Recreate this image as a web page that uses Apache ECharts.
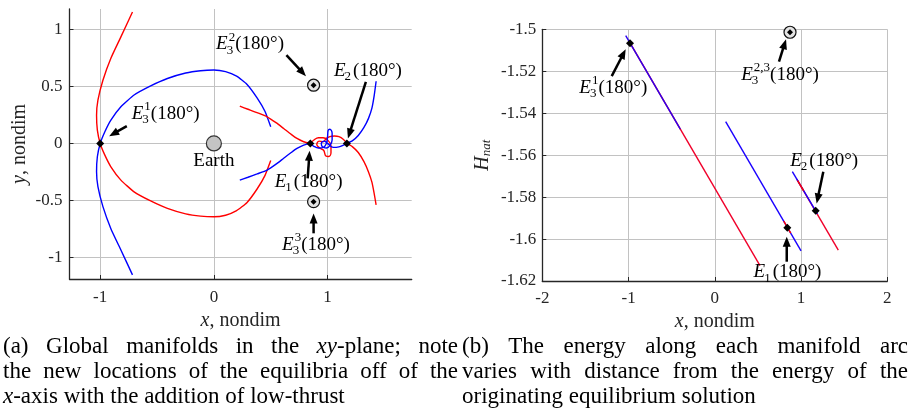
<!DOCTYPE html>
<html>
<head>
<meta charset="utf-8">
<script src="https://cdn.jsdelivr.net/npm/echarts@6.0.0/dist/echarts.min.js"></script>
<style>
  html, body { margin: 0; padding: 0; background: #fff; }
  #chart { width: 913px; height: 410px; }
</style>
</head>
<body>
<div id="chart"></div>
<script>
// ---------- (a) manifolds in the xy-plane ----------
const redArc = [[-0.716, 1.154], [-0.818, 0.935], [-0.906, 0.748], [-0.976, 0.555], [-1.02, 0.38],
  [-1.032, 0.248], [-1.025, 0.117], [-1.0, 0], [-0.959, -0.103], [-0.906, -0.205], [-0.818, -0.322],
  [-0.702, -0.425], [-0.556, -0.505], [-0.409, -0.57], [-0.248, -0.618], [-0.117, -0.638], [0.0, -0.644],
  [0.103, -0.63], [0.2, -0.59], [0.29, -0.52], [0.38, -0.4], [0.45, -0.28], [0.5, -0.15]];
const blueArc = [[-0.716, -1.154], [-0.818, -0.935], [-0.906, -0.748], [-0.976, -0.555], [-1.02, -0.38],
  [-1.032, -0.248], [-1.025, -0.117], [-1.0, 0], [-0.959, 0.103], [-0.906, 0.205], [-0.818, 0.322],
  [-0.702, 0.425], [-0.556, 0.505], [-0.409, 0.57], [-0.248, 0.618], [-0.117, 0.638], [0.0, 0.644],
  [0.103, 0.63], [0.2, 0.59], [0.29, 0.52], [0.38, 0.4], [0.45, 0.28], [0.5, 0.146]];
const redToE1 = [[0.228, 0.327], [0.3, 0.3], [0.38, 0.27], [0.468, 0.234], [0.55, 0.18], [0.614, 0.131],
  [0.68, 0.08], [0.731, 0.044], [0.79, 0.015], [0.848, 0]];
const blueToE1 = [[0.228, -0.322], [0.3, -0.297], [0.38, -0.268], [0.468, -0.234], [0.55, -0.18], [0.614, -0.13],
  [0.68, -0.08], [0.731, -0.044], [0.79, -0.015], [0.848, 0]];
const redLoop = [[0.848, 0], [0.88, 0.03], [0.92, 0.05], [0.96, 0.05], [1.0, 0.03], [1.03, -0.02],
  [1.03, -0.08], [1.01, -0.115], [0.985, -0.11], [0.965, -0.06], [0.93, -0.04], [0.905, -0.01],
  [0.925, 0.02], [0.96, 0.015], [0.99, 0.045], [1.02, 0.06], [1.06, 0.065], [1.1, 0.06], [1.14, 0.035], [1.17, 0]];
const blueLoop = [[0.848, 0], [0.88, -0.025], [0.92, -0.04], [0.96, -0.035], [0.99, 0.0], [1.0, 0.06],
  [1.005, 0.115], [1.02, 0.125], [1.04, 0.09], [1.04, 0.03], [1.02, -0.02], [0.99, -0.04], [0.955, -0.03],
  [0.945, 0.0], [0.97, 0.02], [1.0, 0.0], [1.05, -0.035], [1.1, -0.03], [1.14, -0.015], [1.17, 0]];
const redFromE2 = [[1.17, 0], [1.22, -0.03], [1.27, -0.08], [1.32, -0.16], [1.36, -0.25], [1.39, -0.34],
  [1.41, -0.44], [1.427, -0.54]];
const blueFromE2 = [[1.17, 0], [1.22, 0.025], [1.27, 0.07], [1.32, 0.14], [1.36, 0.22], [1.39, 0.31],
  [1.41, 0.42], [1.427, 0.546]];
const earthPos = [[0, 0]];
const onAxisEq = [[-1, 0], [0.848, 0], [1.17, 0]];
const offAxisEq = [[0.877, 0.511], [0.877, -0.511]];

const ticksXA = [-1, 0, 1];
const ticksYA = [-1, -0.5, 0, 0.5, 1];

// annotation arrows [tailX, tailY, headX, headY] and labels
const arrowsA = [[-0.766, 0.152, -0.921, 0.064], [0.638, 0.775, 0.81, 0.59], [1.337, 0.54, 1.179, 0.044],
  [0.825, -0.307, 0.842, -0.065], [0.877, -0.789, 0.877, -0.614]];
const labelPosA = [[-0.424, 0.262], [0.318, 0.871], [1.355, 0.636], [0.833, -0.337], [0.898, -0.892], [0, -0.155]];
const labelBaseA = ['E', 'E', 'E', 'E', 'E', 'Earth'];
const labelSubA = ['3', '3', '2', '1', '3', ''];
const labelSupA = ['1', '2', '', '', '3', ''];
const labelTailA = ['(180°)', '(180°)', '(180°)', '(180°)', '(180°)', ''];

// ---------- (b) energy along each arc ----------
const hE31Red = [[-1.0, -1.5053], [0.524, -1.6127]];
const hE31Blue = [[-1.033, -1.503], [-0.40, -1.5476]];
const hE1Blue = [[0.126, -1.544], [1.0, -1.6056]];
const hE1Red = [[0.80, -1.5915], [0.88, -1.5972]];
const hE2Red = [[0.95, -1.5714], [1.432, -1.6053]];
const hE2Blue = [[0.899, -1.5679], [1.19, -1.588]];
const hE2RedMid = [[0.96, -1.5721], [1.03, -1.5769]];
const hOnArc = [[-0.983, -1.5067], [0.841, -1.5946], [1.17, -1.5865]];
const hOffAxis = [[0.872, -1.5014]];

const ticksXB = [-2, -1, 0, 1, 2];
const ticksYB = [-1.62, -1.6, -1.58, -1.56, -1.54, -1.52, -1.5];

const arrowsB = [[-1.195, -1.5223, -1.033, -1.5095], [0.744, -1.5154, 0.826, -1.5048],
  [1.258, -1.5679, 1.181, -1.583], [0.834, -1.6108, 0.834, -1.5989]];
const labelPosB = [[-1.177, -1.528], [0.756, -1.5218], [1.268, -1.5627], [0.843, -1.6159]];
const labelBaseB = ['E', 'E', 'E', 'E'];
const labelSubB = ['3', '3', '2', '1'];
const labelSupB = ['1', '2,3', '', ''];
const labelTailB = ['(180°)', '(180°)', '(180°)', '(180°)'];

// captions
const captionA = ['(a) Global manifolds in the *xy*-plane; note', 'the new locations of the equilibria off of the',
  '*x*-axis with the addition of low-thrust'];
const captionB = ['(b) The energy along each manifold arc', 'varies with distance from the energy of the',
  'originating equilibrium solution'];
const captionJustify = [true, true, false];

// ---------- helpers ----------
const FAMILY = '"Liberation Serif", "Times New Roman", serif';
const INK = '#262626';
const measureCtx = document.createElement('canvas').getContext('2d');
function textWidth(s, size, italic) {
  measureCtx.font = (italic ? 'italic ' : '') + size + 'px ' + FAMILY;
  return measureCtx.measureText(s).width;
}

function arrowItem(params, api) {
  const p1 = api.coord([api.value(0), api.value(1)]);
  const p2 = api.coord([api.value(2), api.value(3)]);
  const dx = p2[0] - p1[0], dy = p2[1] - p1[1];
  const len = Math.hypot(dx, dy);
  const ux = dx / len, uy = dy / len;
  const hl = 10, hw = 4;
  const bx = p2[0] - ux * hl, by = p2[1] - uy * hl;
  return {
    type: 'group',
    children: [
      { type: 'line', shape: { x1: p1[0], y1: p1[1], x2: bx + ux, y2: by + uy }, style: { stroke: '#000', lineWidth: 2.5 } },
      { type: 'polygon', shape: { points: [[p2[0], p2[1]], [bx - uy * hw, by + ux * hw], [bx + uy * hw, by - ux * hw]] }, style: { fill: '#000' } }
    ]
  };
}

function labelRenderer(bases, subs, sups, tails) {
  const big = 19, small = 13;
  return function (params, api) {
    const i = params.dataIndex;
    const p = api.coord([api.value(0), api.value(1)]);
    const italic = bases[i] === 'E';
    const wB = textWidth(bases[i], big, italic);
    const wS = Math.max(textWidth(subs[i], small), textWidth(sups[i], small));
    const wT = textWidth(tails[i], big);
    const x0 = p[0] - (wB + wS + wT + (wS ? 1 : 0)) / 2;
    const mk = (text, x, y, size, it) => ({
      type: 'text', x: x, y: y,
      style: { text: text, fontSize: size, fontFamily: FAMILY, fontStyle: it ? 'italic' : 'normal', fill: '#000', align: 'left', verticalAlign: 'middle' }
    });
    const children = [mk(bases[i], x0, p[1], big, italic)];
    if (subs[i]) children.push(mk(subs[i], x0 + wB - 1, p[1] + 6, small));
    if (sups[i]) children.push(mk(sups[i], x0 + wB + 1, p[1] - 7, small));
    if (tails[i]) children.push(mk(tails[i], x0 + wB + wS + 1, p[1], big));
    return { type: 'group', children: children };
  };
}

function captionGraphics(lines, x0, x1, y0, dy) {
  const size = 23;
  const out = [];
  lines.forEach((line, li) => {
    const words = line.split(' ');
    const widths = words.map(w => w.split('*').reduce((s, part, k) => s + textWidth(part, size, k % 2 === 1), 0));
    const total = widths.reduce((a, b) => a + b, 0);
    const gap = captionJustify[li] ? (x1 - x0 - total) / (words.length - 1) : textWidth(' ', size);
    let x = x0;
    words.forEach((w, k) => {
      const rich = w.split('*').map((part, j) => (j % 2 === 1 ? '{i|' + part + '}' : part)).join('');
      out.push({
        type: 'text', x: x, y: y0 + li * dy, silent: true,
        style: {
          text: rich, fontSize: size, fontFamily: FAMILY, fill: '#000', verticalAlign: 'middle',
          rich: { i: { fontStyle: 'italic', fontSize: size, fontFamily: FAMILY, fill: '#000' } }
        }
      });
      x += widths[k] + gap;
    });
  });
  return out;
}

function valueAxis(gridIndex, min, max, ticks, margin, extra) {
  return Object.assign({
    type: 'value', gridIndex: gridIndex, min: min, max: max,
    axisLine: { show: true, onZero: false, lineStyle: { color: INK, width: 1.3 } },
    axisTick: { show: true, inside: true, length: 4, customValues: ticks, lineStyle: { color: INK, width: 1 } },
    axisLabel: { customValues: ticks, formatter: v => String(v), fontFamily: FAMILY, fontSize: 17, color: INK, margin: margin },
    splitLine: { show: true, lineStyle: { color: '#c2c2c2', width: 1 } },
    nameLocation: 'middle',
    nameTextStyle: {
      fontFamily: FAMILY, fontSize: 20, color: INK,
      rich: {
        i: { fontStyle: 'italic', fontFamily: FAMILY, fontSize: 20, color: INK },
        s: { fontStyle: 'italic', fontFamily: FAMILY, fontSize: 13, color: INK, padding: [8, 0, 0, 0] }
      }
    }
  }, extra);
}

function curve(data, color, xi, smooth) {
  return {
    type: 'line', xAxisIndex: xi, yAxisIndex: xi, data: data, smooth: smooth, showSymbol: false,
    symbol: 'none', lineStyle: { color: color, width: 1.4 }, silent: true, z: 3
  };
}

function dots(data, xi, symbol, size, fill, border, z) {
  return {
    type: 'scatter', xAxisIndex: xi, yAxisIndex: xi, data: data, symbol: symbol, symbolSize: size,
    itemStyle: { color: fill, borderColor: border, borderWidth: border ? 1.2 : 0, opacity: 1 }, silent: true, z: z
  };
}

const chart = echarts.init(document.getElementById('chart'), null, { renderer: 'canvas' });
chart.setOption({
  animation: false,
  backgroundColor: '#fff',
  grid: [
    { left: 69.5, top: 9, width: 342.2, height: 270, outerBoundsMode: 'none', containLabel: false },
    { left: 542.3, top: 29.3, width: 345, height: 251.7, outerBoundsMode: 'none', containLabel: false }
  ],
  xAxis: [
    valueAxis(0, -1.27, 1.74, ticksXA, 10, { name: '{i|x}, nondim', nameGap: 32 }),
    valueAxis(1, -2, 2, ticksXB, 9, { name: '{i|x}, nondim', nameGap: 30 })
  ],
  yAxis: [
    valueAxis(0, -1.19, 1.18, ticksYA, 7, { name: '{i|y}, nondim', nameGap: 40 }),
    valueAxis(1, -1.62, -1.5, ticksYB, 6, { name: '{i|H}{s|nat}', nameGap: 49 })
  ],
  graphic: captionGraphics(captionA, 3, 458, 347, 25).concat(captionGraphics(captionB, 462, 908, 347, 25)),
  series: [
    curve(redArc, '#ff0000', 0, 0.15),
    curve(blueArc, '#0000ff', 0, 0.15),
    curve(redToE1, '#ff0000', 0, 0.2),
    curve(blueToE1, '#0000ff', 0, 0.2),
    curve(redFromE2, '#ff0000', 0, 0.2),
    curve(blueFromE2, '#0000ff', 0, 0.2),
    curve(redLoop, '#ff0000', 0, 0.4),
    curve(blueLoop, '#0000ff', 0, 0.4),
    dots(earthPos, 0, 'circle', 15, '#c4c4c4', '#333', 5),
    dots(offAxisEq, 0, 'circle', 12, '#e4e4e4', '#111', 5),
    dots(offAxisEq, 0, 'diamond', 6, '#000', null, 6),
    dots(onAxisEq, 0, 'diamond', 8, '#000', null, 6),
    { type: 'custom', xAxisIndex: 0, yAxisIndex: 0, data: arrowsA, encode: { x: [0, 2], y: [1, 3] }, renderItem: arrowItem, silent: true, z: 8 },
    { type: 'custom', xAxisIndex: 0, yAxisIndex: 0, data: labelPosA, encode: { x: 0, y: 1 }, renderItem: labelRenderer(labelBaseA, labelSubA, labelSupA, labelTailA), silent: true, z: 8 },

    curve(hE31Red, '#f0002a', 1, false),
    curve(hE31Blue, '#2a00f0', 1, false),
    curve(hE1Blue, '#1a00ff', 1, false),
    curve(hE1Red, '#ff0000', 1, false),
    curve(hE2Red, '#f0002a', 1, false),
    curve(hE2Blue, '#1a00ff', 1, false),
    curve(hE2RedMid, '#ff0000', 1, false),
    dots(hOffAxis, 1, 'circle', 12, '#e4e4e4', '#111', 5),
    dots(hOffAxis, 1, 'diamond', 6, '#000', null, 6),
    dots(hOnArc, 1, 'diamond', 8, '#000', null, 6),
    { type: 'custom', xAxisIndex: 1, yAxisIndex: 1, data: arrowsB, encode: { x: [0, 2], y: [1, 3] }, renderItem: arrowItem, silent: true, z: 8 },
    { type: 'custom', xAxisIndex: 1, yAxisIndex: 1, data: labelPosB, encode: { x: 0, y: 1 }, renderItem: labelRenderer(labelBaseB, labelSubB, labelSupB, labelTailB), silent: true, z: 8 }
  ]
});
</script>
</body>
</html>
